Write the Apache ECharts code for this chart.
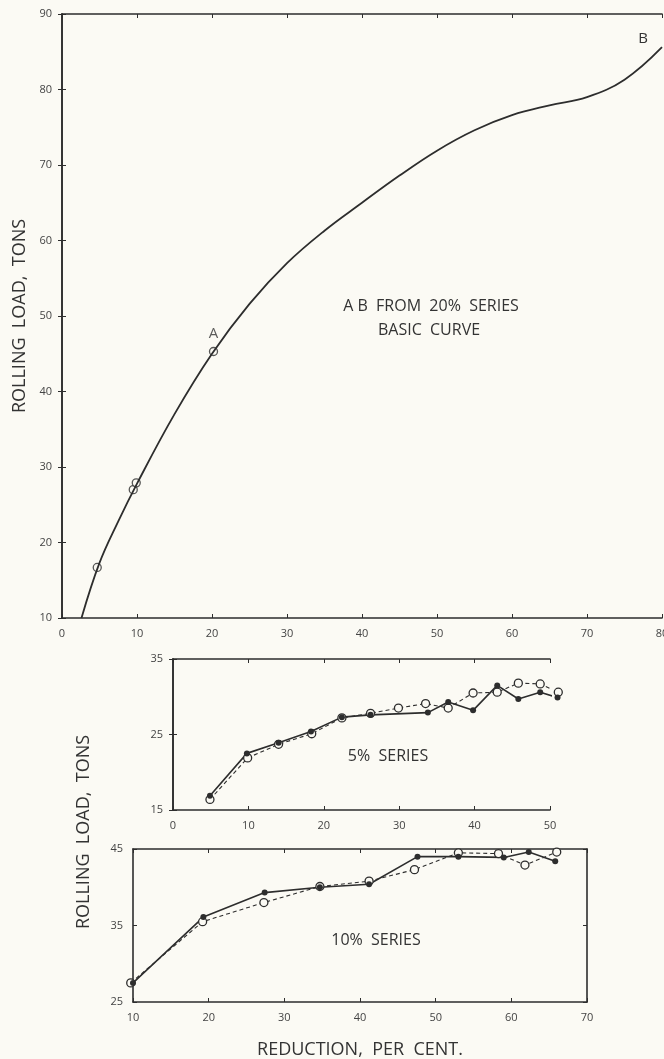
<!DOCTYPE html>
<html>
<head>
<meta charset="utf-8">
<script src="https://cdn.jsdelivr.net/npm/echarts@6/dist/echarts.min.js"></script>
<style>
html, body { margin: 0; padding: 0; background: #fbfaf4; }
#chart { width: 664px; height: 1059px; }
</style>
</head>
<body>
<div id="chart"></div>
<script>
// basic curve (20% series)
var curveX = [2.6, 5, 7.5, 10, 15, 20, 25, 30, 35, 40, 45, 50, 55, 60, 65, 70, 75, 80];
var curveY = [10, 17.3, 22.8, 27.8, 37, 45, 51.6, 57.0, 61.3, 65.0, 68.6, 71.9, 74.6, 76.6, 77.9, 79.0, 81.3, 85.6];
var testX = [4.7, 9.5, 9.9, 20.2];
var testY = [16.7, 27.0, 27.9, 45.3];

// 5% series
var s5FilledX = [4.9, 9.8, 14, 18.3, 22.4, 26.2, 33.8, 36.5, 39.8, 43, 45.8, 48.7, 51];
var s5FilledY = [16.9, 22.5, 23.9, 25.4, 27.3, 27.6, 27.9, 29.3, 28.2, 31.5, 29.7, 30.6, 29.9];
var s5OpenX = [4.9, 9.9, 14, 18.4, 22.4, 26.2, 29.9, 33.5, 36.5, 39.8, 43, 45.8, 48.7, 51.1];
var s5OpenY = [16.4, 21.9, 23.7, 25.1, 27.2, 27.8, 28.5, 29.1, 28.5, 30.5, 30.6, 31.8, 31.7, 30.6];

// 10% series
var s10FilledX = [10, 19.3, 27.4, 34.7, 41.2, 47.6, 53, 59, 62.3, 65.8];
var s10FilledY = [27.5, 36.1, 39.3, 40.0, 40.4, 44.0, 44.0, 43.9, 44.6, 43.4];
var s10OpenX = [9.7, 19.2, 27.3, 34.7, 41.2, 47.2, 53, 58.3, 61.8, 66];
var s10OpenY = [27.5, 35.5, 38.0, 40.1, 40.8, 42.3, 44.5, 44.4, 42.9, 44.6];

function zip(xs, ys) {
    return xs.map(function(x, i) { return [x, ys[i]]; });
}

var ink = '#2d2d2d';
var paper = '#fbfaf4';
var font = 'Open Sans';

function axisBase(gridIndex, min, max, interval, position, showLabels) {
    return {
        type: 'value',
        gridIndex: gridIndex,
        min: min,
        max: max,
        interval: interval,
        position: position,
        splitLine: { show: false },
        axisLine: { show: true, lineStyle: { color: ink, width: 1.6 } },
        axisTick: { show: true, inside: true, length: 4, lineStyle: { color: ink, width: 1 } },
        axisLabel: { show: showLabels, color: '#444', fontSize: 11, fontFamily: font, margin: 10 }
    };
}

var chart = echarts.init(document.getElementById('chart'));

var xAxes = [
    axisBase(0, 0, 80, 10, 'bottom', true),
    axisBase(0, 0, 80, 10, 'top', false),
    axisBase(1, 0, 50, 10, 'bottom', true),
    axisBase(1, 0, 50, 10, 'top', false),
    axisBase(2, 10, 70, 10, 'bottom', true),
    axisBase(2, 10, 70, 10, 'top', false)
];
xAxes[4].name = 'REDUCTION,  PER  CENT.';
xAxes[4].nameLocation = 'middle';
xAxes[4].nameGap = 39;
xAxes[4].nameTextStyle = { color: '#333', fontSize: 18, fontFamily: font };

var yAxes = [
    axisBase(0, 10, 90, 10, 'left', true),
    axisBase(0, 10, 90, 10, 'right', false),
    axisBase(1, 15, 35, 10, 'left', true),
    axisBase(1, 15, 35, 10, 'right', false),
    axisBase(2, 25, 45, 10, 'left', true),
    axisBase(2, 25, 45, 10, 'right', false)
];
yAxes[0].name = 'ROLLING  LOAD,  TONS';
yAxes[0].nameLocation = 'middle';
yAxes[0].nameGap = 32;
yAxes[0].nameTextStyle = { color: '#333', fontSize: 18, fontFamily: font };

var openSymbol = { color: paper, borderColor: ink, borderWidth: 1.3 };

var testData = zip(testX, testY);
testData[3] = {
    value: testData[3],
    label: { show: true, formatter: 'A', position: 'top', distance: 6, color: '#333', fontSize: 15, fontFamily: font }
};

var textStyle = { align: 'center', verticalAlign: 'middle', fill: '#333', fontSize: 16, fontFamily: font };

chart.setOption({
    backgroundColor: paper,
    animation: false,
    grid: [
        { left: 62, top: 14, width: 600, height: 604, outerBoundsMode: 'none' },
        { left: 173, top: 659, width: 377, height: 151, outerBoundsMode: 'none' },
        { left: 133, top: 849, width: 454, height: 153, outerBoundsMode: 'none' }
    ],
    xAxis: xAxes,
    yAxis: yAxes,
    graphic: [
        { type: 'text', x: 431, y: 306, style: Object.assign({ text: 'A B  FROM  20%  SERIES' }, textStyle) },
        { type: 'text', x: 429, y: 330, style: Object.assign({ text: 'BASIC  CURVE' }, textStyle) },
        { type: 'text', x: 388, y: 756, style: Object.assign({ text: '5%  SERIES' }, textStyle) },
        { type: 'text', x: 376, y: 940, style: Object.assign({ text: '10%  SERIES' }, textStyle) },
        { type: 'text', x: 84, y: 832, rotation: Math.PI / 2,
          style: Object.assign({}, textStyle, { text: 'ROLLING  LOAD,  TONS', fontSize: 18 }) }
    ],
    series: [
        {
            type: 'line', xAxisIndex: 0, yAxisIndex: 0,
            data: zip(curveX, curveY),
            smooth: 0.4, showSymbol: false, clip: false,
            lineStyle: { color: ink, width: 1.8 },
            endLabel: { show: true, formatter: 'B', align: 'center', offset: [-19, -8], distance: 0, color: '#333', fontSize: 15, fontFamily: font }
        },
        {
            type: 'scatter', xAxisIndex: 0, yAxisIndex: 0,
            data: testData, symbol: 'circle', symbolSize: 8,
            itemStyle: openSymbol
        },
        {
            type: 'line', xAxisIndex: 2, yAxisIndex: 2,
            data: zip(s5OpenX, s5OpenY), clip: false,
            symbol: 'circle', symbolSize: 8, itemStyle: openSymbol,
            lineStyle: { color: ink, width: 1.1, type: [4, 3] }
        },
        {
            type: 'line', xAxisIndex: 2, yAxisIndex: 2,
            data: zip(s5FilledX, s5FilledY), clip: false,
            symbol: 'circle', symbolSize: 6, itemStyle: { color: ink },
            lineStyle: { color: ink, width: 1.6 }
        },
        {
            type: 'line', xAxisIndex: 4, yAxisIndex: 4,
            data: zip(s10OpenX, s10OpenY), clip: false,
            symbol: 'circle', symbolSize: 8, itemStyle: openSymbol,
            lineStyle: { color: ink, width: 1.1, type: [4, 3] }
        },
        {
            type: 'line', xAxisIndex: 4, yAxisIndex: 4,
            data: zip(s10FilledX, s10FilledY), clip: false,
            symbol: 'circle', symbolSize: 6, itemStyle: { color: ink },
            lineStyle: { color: ink, width: 1.6 }
        }
    ]
});
</script>
</body>
</html>
